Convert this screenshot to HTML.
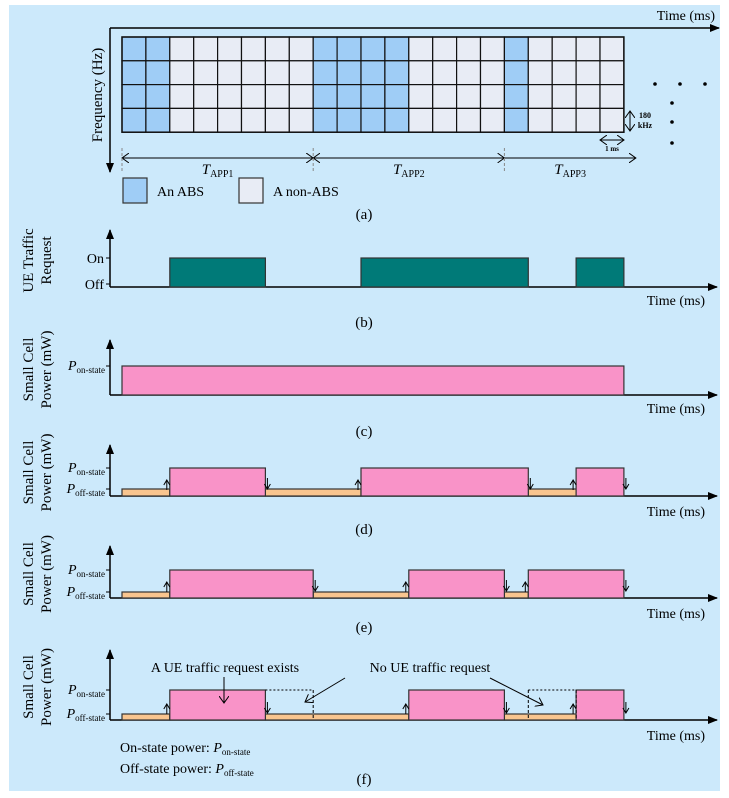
<!DOCTYPE html>
<html><head><meta charset="utf-8"><style>
body{margin:0;background:#fff;}
svg{display:block;font-family:"Liberation Serif",serif;}
</style></head><body>
<svg id="fig" width="729" height="798" viewBox="0 0 729 798">
<defs>
<marker id="ah" markerWidth="10" markerHeight="8" refX="9" refY="4" orient="auto" markerUnits="userSpaceOnUse"><path d="M0,0 L10,4 L0,8 z" fill="#000"/></marker>
<marker id="oa" markerWidth="8" markerHeight="10" refX="7" refY="5" orient="auto-start-reverse" markerUnits="userSpaceOnUse"><path d="M0,0 L7,5 L0,10" fill="none" stroke="#000" stroke-width="1"/></marker>
</defs>
<rect x="9" y="5" width="711" height="786" fill="#cce9fb"/>
<g id="g"></g>
</svg>
<script>
const nCols = 21;
const nRows = 4;
const absCols = [0,1,8,9,10,11,16];
const trafficOn = [[2,6],[10,17],[19,21]];
const panelC = [[0,21]];
const panelD = [[2,6],[10,17],[19,21]];
const panelE = [[2,8],[12,16],[17,21]];
const panelF = [[2,6],[12,16],[19,21]];
const panelFIdle = [[6,8],[17,19]];
const appBounds = [0,8,16,21.5];
const appLabels = ["APP1","APP2","APP3"];

const NS="http://www.w3.org/2000/svg";
const G=document.getElementById('g');
const X0=122, CW=23.9;
const xs=t=>X0+t*CW;
function el(tag,attrs,parent){const e=document.createElementNS(NS,tag);for(const k in attrs)e.setAttribute(k,attrs[k]);(parent||G).appendChild(e);return e;}
function txt(x,y,s,size,anchor,parent){const e=el('text',{x:x,y:y,'font-size':size,'text-anchor':anchor||'start'},parent);e.textContent=s;return e;}

// Panel (a)
let ax=el('line',{x1:110,y1:28,x2:719,y2:28,stroke:'#000','stroke-width':1.5,'marker-end':'url(#ah)'});


let ay=el('line',{x1:110,y1:28,x2:110,y2:172,stroke:'#000','stroke-width':1.5,'marker-end':'url(#ah)'});


let t1=txt(715,20,'Time (ms)',14,'end');


let fl=txt(0,0,'Frequency (Hz)',15,'middle');
fl.setAttribute('transform','translate(102,95) rotate(-90)');


const GT=37, RH=23.8;
for(let c=0;c<nCols;c++){for(let r=0;r<nRows;r++){
  const cell=el('rect',{x:xs(c),y:GT+r*RH,width:CW,height:RH,fill:absCols.includes(c)?'#9fcdf6':'#e8ecf5',stroke:'#111','stroke-width':1.2});
  
  
}}
el('rect',{x:xs(0),y:GT,width:CW*nCols,height:RH*nRows,fill:'none',stroke:'#111','stroke-width':1.5});
[[655,84],[680,84],[705,84],[672,103],[672,122],[672,143]].forEach(p=>{const d=el('circle',{cx:p[0],cy:p[1],r:1.8,fill:'#000'});});
el('line',{x1:630,y1:111,x2:630,y2:131,stroke:'#000','stroke-width':1,'marker-end':'url(#oa)','marker-start':'url(#oa)'});
let k1=txt(645,118,'180',8,'middle');k1.setAttribute('font-weight','bold');
let k2=txt(645,128,'kHz',8,'middle');k2.setAttribute('font-weight','bold');
el('line',{x1:600,y1:140,x2:624,y2:140,stroke:'#000','stroke-width':1,'marker-end':'url(#oa)','marker-start':'url(#oa)'});
let ms=txt(612,151,'1 ms',7,'middle');ms.setAttribute('font-weight','bold');
for(let i=0;i<3;i++){
  const a=xs(appBounds[i]), b=xs(appBounds[i+1]);
  const attrs={x1:a,y1:158,x2:b,y2:158,stroke:'#000','stroke-width':1,'marker-end':'url(#oa)'};
  if(i<2) attrs['marker-start']='url(#oa)';
  const l=el('line',attrs);
  
  
  el('line',{x1:a,y1:148,x2:a,y2:172,stroke:'#888','stroke-width':1,'stroke-dasharray':'3,2'});
  const tx=el('text',{x:(a+b)/2,y:174,'font-size':15,'text-anchor':'middle'});
  tx.innerHTML='<tspan font-style="italic">T</tspan><tspan font-size="10" dy="3">'+appLabels[i]+'</tspan>';
  
  
}
let lg1=el('rect',{x:123,y:178,width:24,height:25,fill:'#9fcdf6',stroke:'#333','stroke-width':1.2});

let lt1=txt(157,196,'An ABS',14);
let lg2=el('rect',{x:239,y:178,width:24,height:25,fill:'#e8ecf5',stroke:'#333','stroke-width':1.2});

let lt2=txt(273,196,'A non-ABS',14);
let ca=txt(364,219,'(a)',15,'middle');

function axes(top,base,timeY,capY,cap,labels){
  const v=el('line',{x1:110,y1:base,x2:110,y2:top,stroke:'#000','stroke-width':1.5,'marker-end':'url(#ah)'});
  
  const h=el('line',{x1:110,y1:base,x2:717,y2:base,stroke:'#000','stroke-width':1.5,'marker-end':'url(#ah)'});
  
  const t=txt(705,timeY,'Time (ms)',14,'end');
  const c=txt(364,capY,'('+cap+')',15,'middle');
  const yl=el('text',{'font-size':15,'text-anchor':'middle',transform:'translate(30,'+((top+base)/2+2)+') rotate(-90)'});
  yl.innerHTML=labels.map((s,i)=>'<tspan x="0" y="'+(i?21:3)+'">'+s+'</tspan>').join('');
  
}
function pLabel(y,kind){
  el('line',{x1:106,y1:y,x2:110,y2:y,stroke:'#000'});
  const e=el('text',{x:105,y:y+4,'font-size':14,'text-anchor':'end'});
  e.innerHTML='<tspan font-style="italic">P</tspan><tspan font-size="9" dy="3">'+kind+'</tspan>';
  
}
function bar(a,b,top,base,fill,name){
  const r=el('rect',{x:xs(a),y:top,width:xs(b)-xs(a),height:base-top,fill:fill,stroke:'#333','stroke-width':1.2});
  
}
function offBars(on,top,base){
  let prev=0;
  on.forEach(p=>{if(p[0]>prev)bar(prev,p[0],top,base,'#f9c58f','off-state-bar');prev=p[1];});
}
function switchArrows(on,pOn,pOff){
  on.forEach(p=>{
    const a=xs(p[0])-3;
    el('path',{d:`M${a-3},${pOff-1} L${a},${pOff-6} L${a+3},${pOff-1}`,fill:'none',stroke:'#000','stroke-width':1});
    el('line',{x1:a,y1:pOff-6,x2:a,y2:pOff+4,stroke:'#000','stroke-width':1});
    const b=xs(p[1])+2;
    el('line',{x1:b,y1:pOff-8,x2:b,y2:pOff+3,stroke:'#000','stroke-width':1});
    el('path',{d:`M${b-3},${pOff-2} L${b},${pOff+3} L${b+3},${pOff-2}`,fill:'none',stroke:'#000','stroke-width':1});
  });
}

// (b)
axes(230,287,305,327,'b',['UE Traffic','Request']);
el('line',{x1:106,y1:258,x2:110,y2:258,stroke:'#000'});el('line',{x1:106,y1:284,x2:110,y2:284,stroke:'#000'});
txt(104,263,'On',14,'end');txt(104,289,'Off',14,'end');
trafficOn.forEach(p=>bar(p[0],p[1],258,287,'#007a78','traffic-on-bar'));

// (c)
axes(340,395,413,436,'c',['Small Cell','Power (mW)']);
pLabel(366,'on-state');
panelC.forEach(p=>bar(p[0],p[1],366,395,'#f993c8','on-state-bar'));

// (d)
axes(445,496,516,534,'d',['Small Cell','Power (mW)']);
pLabel(468,'on-state');pLabel(489,'off-state');
offBars(panelD,489,496);
panelD.forEach(p=>bar(p[0],p[1],468,496,'#f993c8','on-state-bar'));
switchArrows(panelD,468,486);

// (e)
axes(546,598,618,632,'e',['Small Cell','Power (mW)']);
pLabel(570,'on-state');pLabel(592,'off-state');
offBars(panelE,592,598);
panelE.forEach(p=>bar(p[0],p[1],570,598,'#f993c8','on-state-bar'));
switchArrows(panelE,570,588);

// (f)
axes(650,720,740,784,'f',['Small Cell','Power (mW)']);
pLabel(690,'on-state');pLabel(714,'off-state');
offBars(panelF,714,720);
panelF.forEach(p=>bar(p[0],p[1],690,720,'#f993c8','on-state-bar'));
switchArrows(panelF,690,710);
panelFIdle.forEach(p=>{
  const d=el('path',{d:`M${xs(p[0])},${690} L${xs(p[1])},690`,stroke:'#000','stroke-width':1,'stroke-dasharray':'2,2',fill:'none'});
  
  el('line',{x1:xs(p[1]),y1:690,x2:xs(p[1]),y2:720,stroke:'#000','stroke-width':1,'stroke-dasharray':'3,2'});
  if(p[0]>10) el('line',{x1:xs(p[0]),y1:690,x2:xs(p[0]),y2:720,stroke:'#000','stroke-width':1,'stroke-dasharray':'3,2'});
});
let a1=txt(225,672,'A UE traffic request exists',14,'middle');
el('line',{x1:224,y1:677,x2:224,y2:703,stroke:'#000','stroke-width':1,'marker-end':'url(#oa)'});
let a2=txt(430,672,'No UE traffic request',14,'middle');
el('line',{x1:345,y1:678,x2:305,y2:702,stroke:'#000','stroke-width':1,'marker-end':'url(#oa)'});
el('line',{x1:490,y1:678,x2:543,y2:705,stroke:'#000','stroke-width':1,'marker-end':'url(#oa)'});
const n1=el('text',{x:120,y:752,'font-size':14});
n1.innerHTML='On-state power: <tspan font-style="italic">P</tspan><tspan font-size="9" dy="3">on-state</tspan>';

const n2=el('text',{x:120,y:773,'font-size':14});
n2.innerHTML='Off-state power: <tspan font-style="italic">P</tspan><tspan font-size="9" dy="3">off-state</tspan>';

</script>
</body></html>
